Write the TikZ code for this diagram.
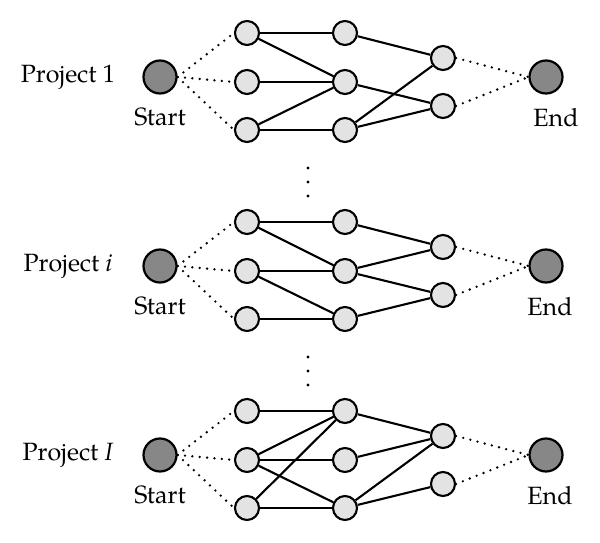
\documentclass[tikz,border=0pt]{standalone}
\usepackage{fontspec}
\setmainfont{TeX Gyre Pagella}
\begin{document}
\begin{tikzpicture}[x=1pt,y=-1pt,
  big/.style={circle,draw,line width=2.2pt,fill=black!47,minimum size=33pt,inner sep=0pt},
  small/.style={circle,draw,line width=2.1pt,fill=black!11,minimum size=24pt,inner sep=0pt},
  lbl/.style={font=\fontsize{25}{29}\selectfont,inner sep=0pt},
  edge/.style={line width=2.1pt},
  dotline/.style={line width=2.6pt,dash pattern=on 0pt off 7.4pt,line cap=round},
  vdot/.style={circle,fill=black,inner sep=0pt,minimum size=3.2pt}]
\useasboundingbox (0,0) rectangle (600,543);
\fill[white] (0,0) rectangle (600,543);
% ---------- three project blocks ----------
\foreach \b/\yy/\name/\ex in {1/77/{Project 1}/556, 2/266/{Project \textit{i}}/550, 3/455/{Project \textit{I}}/550}{
  \begin{scope}[shift={(0,\yy)}]
    \node[lbl] (p\b) at (68,0) {\name};
    \node[big] (s\b) at (160,0) {};
    \node[lbl] (st\b) at (160,40) {Start};
    \node[small] (a\b) at (247,-44) {};
    \node[small] (b\b) at (247,5) {};
    \node[small] (c\b) at (247,53) {};
    \node[small] (d\b) at (345,-44) {};
    \node[small] (e\b) at (345,5) {};
    \node[small] (f\b) at (345,53) {};
    \node[small] (g\b) at (443,-19) {};
    \node[small] (h\b) at (443,29) {};
    \node[big] (t\b) at (546,0) {};
    \node[lbl] (et\b) at (\ex,41) {End};
    \draw[dotline] (s\b.east) -- (a\b.west);
    \draw[dotline] (s\b.east) -- (b\b.west);
    \draw[dotline] (s\b.east) -- (c\b.west);
    \draw[dotline] (g\b.east) -- (t\b.west);
    \draw[dotline] (h\b.east) -- (t\b.west);
  \end{scope}
}
% block 1 edges
\draw[edge] (a1) -- (d1);
\draw[edge] (a1) -- (e1);
\draw[edge] (b1) -- (e1);
\draw[edge] (c1) -- (e1);
\draw[edge] (c1) -- (f1);
\draw[edge] (d1) -- (g1);
\draw[edge] (e1) -- (h1);
\draw[edge] (f1) -- (g1);
\draw[edge] (f1) -- (h1);
% block 2 edges
\draw[edge] (a2) -- (d2);
\draw[edge] (a2) -- (e2);
\draw[edge] (b2) -- (e2);
\draw[edge] (b2) -- (f2);
\draw[edge] (c2) -- (f2);
\draw[edge] (d2) -- (g2);
\draw[edge] (e2) -- (g2);
\draw[edge] (e2) -- (h2);
\draw[edge] (f2) -- (h2);
% block 3 edges
\draw[edge] (a3) -- (d3);
\draw[edge] (b3) -- (d3);
\draw[edge] (b3) -- (e3);
\draw[edge] (b3) -- (f3);
\draw[edge] (c3) -- (d3);
\draw[edge] (c3) -- (f3);
\draw[edge] (d3) -- (g3);
\draw[edge] (e3) -- (g3);
\draw[edge] (f3) -- (g3);
\draw[edge] (f3) -- (h3);
% vertical ellipses
\node[vdot] (v1) at (308,168) {};
\node[vdot] (v2) at (308,182) {};
\node[vdot] (v3) at (308,196) {};
\node[vdot] (w1) at (308,357) {};
\node[vdot] (w2) at (308,371) {};
\node[vdot] (w3) at (308,385) {};
\end{tikzpicture}
\end{document}
